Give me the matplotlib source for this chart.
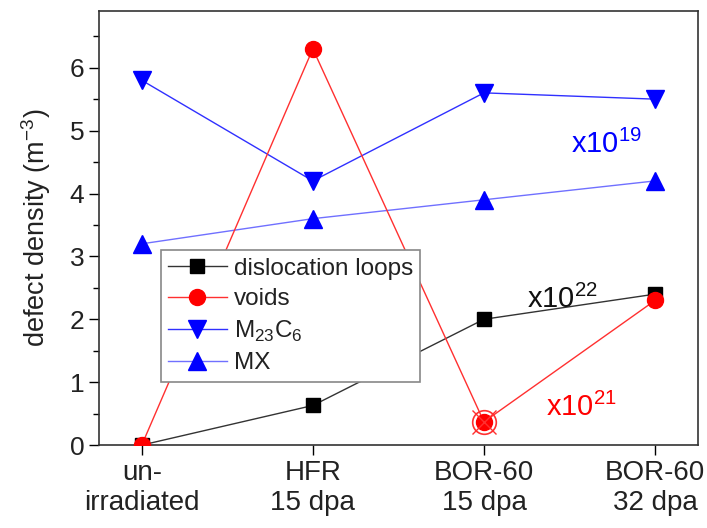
import matplotlib
matplotlib.use("Agg")
import matplotlib.pyplot as plt
from matplotlib.ticker import MultipleLocator

plt.rcParams['font.family'] = ['Liberation Sans', 'DejaVu Sans']
plt.rcParams['mathtext.fontset'] = 'custom'
plt.rcParams['mathtext.rm'] = 'Liberation Sans'

categories = ["un-\nirradiated", "HFR\n15 dpa", "BOR-60\n15 dpa", "BOR-60\n32 dpa"]
loops = [0.0, 0.63, 2.0, 2.4]
voids = [0.0, 6.3, 0.37, 2.3]
m23c6 = [5.8, 4.2, 5.6, 5.5]
mx = [3.2, 3.6, 3.9, 4.2]

x = list(range(len(categories)))

fig = plt.figure(figsize=(7.07, 5.28), dpi=100)
ax = fig.add_axes([0.140, 0.157, 0.847, 0.822])

ax.plot(x, loops, color='#333333', lw=1, marker='s', ms=10.5, mfc='black', mec='black',
        label='dislocation loops', zorder=3)
ax.plot(x, voids, color='#ff3030', lw=1, marker='o', ms=11.5, mfc='#ff0000', mec='#ff0000',
        label='voids', zorder=4)
ax.plot(x, m23c6, color='#3030ff', lw=1, marker='v', ms=13, mfc='#0000ff', mec='#0000ff',
        label='M$_{23}$C$_6$', zorder=3)
ax.plot(x, mx, color='#7070ff', lw=1, marker='^', ms=13, mfc='#0000ff', mec='#0000ff',
        label='MX', zorder=3)
# highlighted void point
ax.plot([x[2]], [voids[2]], marker='o', ms=17, mfc='none', mec='#ff3030', mew=1.2, zorder=5)
ax.plot([x[2]], [voids[2]], marker='x', ms=17, mec='#ff3030', mew=1.0, zorder=5)

ax.set_xlim(-0.25, 3.25)
ax.set_ylim(0, 6.9)
ax.set_xticks(x)
ax.set_xticklabels(categories, fontsize=20, color='#222222')
ax.yaxis.set_major_locator(MultipleLocator(1))
ax.yaxis.set_minor_locator(MultipleLocator(0.5))
ax.tick_params(axis='y', labelsize=19, labelcolor='#222222', direction='out', length=7, width=1)
ax.tick_params(axis='y', which='minor', direction='out', length=4, width=1)
ax.tick_params(axis='x', direction='out', length=7, width=1)
for s in ax.spines.values():
    s.set_color('#333333')
    s.set_linewidth(1.2)

ax.set_ylabel('defect density (m$^{-3}$)', fontsize=19.5, color='#222222', labelpad=12)

ax.text(2.51, 4.65, 'x10$^{19}$', color='#0000ff', fontsize=21)
ax.text(2.25, 2.18, 'x10$^{22}$', color='#111111', fontsize=21)
ax.text(2.36, 0.47, 'x10$^{21}$', color='#ff0000', fontsize=21)

leg = ax.legend(loc='upper left', bbox_to_anchor=(0.1035, 0.449), fontsize=17.5,
                frameon=True, fancybox=False, edgecolor='#888888', framealpha=1,
                handlelength=2.4, borderpad=0.3, labelspacing=0.35, handletextpad=0.3,
                borderaxespad=0)
leg.get_frame().set_linewidth(1.2)
for t in leg.get_texts():
    t.set_color('#222222')

fig.savefig('out.png', dpi=100)
